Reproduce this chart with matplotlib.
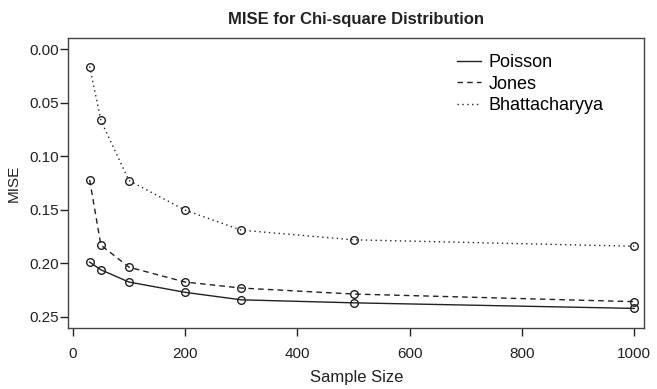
import matplotlib
matplotlib.use("Agg")
import matplotlib.pyplot as plt
from matplotlib.lines import Line2D

plt.rcParams['font.family'] = ['Liberation Sans', 'DejaVu Sans']

# sample sizes and MISE values
sample_size = [30, 50, 100, 200, 300, 500, 1000]
poisson = [0.1988, 0.2060, 0.2174, 0.2270, 0.2340, 0.2368, 0.2420]
jones = [0.1221, 0.1830, 0.2035, 0.2174, 0.2230, 0.2286, 0.2357]
bhatt = [0.0163, 0.0666, 0.1227, 0.1503, 0.1690, 0.1780, 0.1840]

series_names = ["Poisson", "Jones", "Bhattacharyya"]
tick_y = [0.00, 0.05, 0.10, 0.15, 0.20, 0.25]
tick_x = [0, 200, 400, 600, 800, 1000]

ink = "#222222"
styles = ["-", (0, (4, 3)), (0, (1, 2.5))]

fig = plt.figure(figsize=(6.57, 3.89), dpi=100)
ax = fig.add_axes([0.104, 0.1576, 0.8767, 0.7439])

for vals, ls in zip([poisson, jones, bhatt], styles):
    ax.plot(sample_size, vals, linestyle=ls, color=ink, linewidth=1.0,
            marker='o', markersize=5.5, markerfacecolor='none',
            markeredgecolor=ink, markeredgewidth=1.0)

ax.set_xlim(-8, 1018)
ax.set_ylim(0.26, -0.01)
ax.set_xticks(tick_x)
ax.set_yticks(tick_y)
ax.set_yticklabels([f"{t:.2f}" for t in tick_y])

ax.tick_params(axis='x', direction='out', length=6, width=1, colors=ink,
               labelsize=11, pad=8)
ax.tick_params(axis='y', direction='out', length=5.5, width=1, colors=ink,
               labelsize=11, pad=1)
for sp in ax.spines.values():
    sp.set_color('#444444')
    sp.set_linewidth(1.0)

ax.set_xlabel("Sample Size", fontsize=12, color=ink)
ax.xaxis.set_label_coords(0.5, -0.145)
ax.set_ylabel("MISE", fontsize=11, color=ink)
ax.yaxis.set_label_coords(-0.082, 0.5)

ax.set_title("MISE for Chi-square Distribution", fontsize=12, fontweight='bold',
             color=ink, pad=10)

handles = [Line2D([], [], color=ink, linestyle=ls, linewidth=1.0) for ls in styles]
ax.legend(handles, series_names, loc='upper left', bbox_to_anchor=(0.675, 0.945),
          frameon=False, fontsize=13, handlelength=1.3, handletextpad=0.45,
          labelspacing=0.25, borderpad=0, borderaxespad=0)

fig.savefig("out.png", dpi=100)
